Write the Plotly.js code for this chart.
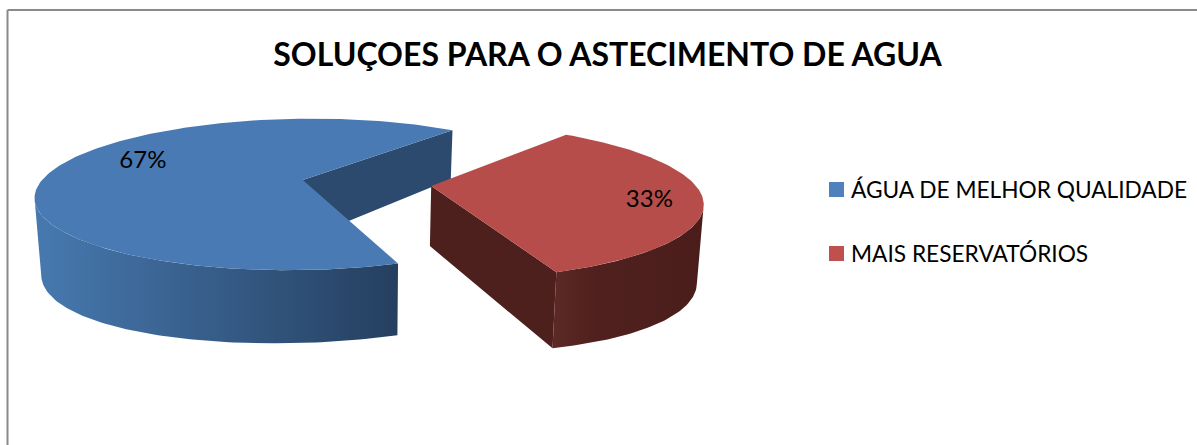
<!DOCTYPE html>
<html><head><meta charset="utf-8">
<script src="https://cdn.plot.ly/plotly-3.0.1.min.js"></script>
<style>html,body{margin:0;padding:0;background:#fff;overflow:hidden}#c{width:1197px;height:445px}</style>
</head><body><div id="c"></div>
<script>
// Data
const chartTitle = 'SOLUÇOES PARA O ASTECIMENTO DE AGUA';
const categories = ['ÁGUA DE MELHOR QUALIDADE', 'MAIS RESERVATÓRIOS'];
const values = [67, 33];
// Styles
const topColors = ['#4A7AB3', '#B64D4A'];
const wallColors = ['#2C4A6E', '#4D1F1D'];
const sideScales = [
  [[0, '#4779B0'], [1, '#253F5F']],
  [[0, '#5C2926'], [0.3, '#4F201E'], [1, '#4A1D1B']]
];
const legendColors = ['#4F81BD', '#C0504D'];
const labelPlane = [[-0.655, 0.26], [0.785, -0.19]];
const legendRows = [189.5, 253.5];
// Pie view
const firstAngle = 50.2, pull = 0.2475, warp = 1.5;
const view = {cx: 366.5, cy: 183, R: 262.8, tR: 74.2, k: 0.19};

function project(X, Y) {
  const s = 1 / (1 + view.k * Y);
  return [view.cx + view.R * X * s, view.cy - view.tR * Y * s];
}
function projectBottom(X, Y) {
  const p = project(X, Y);
  const depth = 59 - 14 * Y + 10 * X * X;
  return [p[0] - (p[0] - view.cx) * 0.02, p[1] + depth];
}
const rad = d => d * Math.PI / 180;
const total = values.reduce((a, b) => a + b, 0);
const traces = [];
function poly(pts, extra) {
  const x = pts.map(p => p[0]), y = pts.map(p => p[1]);
  traces.push(Object.assign({type: 'scatter', mode: 'lines', x: x, y: y, fill: 'toself',
    line: {width: 0}, hoverinfo: 'skip', showlegend: false}, extra));
}
let start = firstAngle;
const slices = values.map((v, i) => {
  const sweep = v / total * 360, mid = start + sweep / 2;
  const o = {i, a0: start, a1: start + sweep, mid: mid,
    ox: pull * Math.cos(rad(mid)), oy: pull * Math.sin(rad(mid))};
  start += sweep;
  return o;
});
const axisAngle = slices[1].mid;
function planePoint(s, deg) {
  const d = deg + warp * Math.sin(rad(deg - axisAngle));
  return [s.ox + Math.cos(rad(d)), s.oy + Math.sin(rad(d))];
}
slices.forEach(s => {
  const arc = [];
  for (let d = s.a0; d < s.a1; d += 1) arc.push(d);
  arc.push(s.a1);
  const apex = [s.ox, s.oy];
  const plane = arc.map(d => planePoint(s, d));
  const topArc = plane.map(p => project(p[0], p[1]));
  // The rim shows from the slice's near cut to its outermost silhouette point
  const xs = topArc.map(p => p[0]);
  const vis = s.i === 0 ? plane.slice(xs.indexOf(Math.min(...xs)))
                        : plane.slice(0, xs.indexOf(Math.max(...xs)) + 1);
  const wallEnd = plane[0];
  // Cut wall facing the viewer
  poly([project(apex[0], apex[1]), project(wallEnd[0], wallEnd[1]),
        projectBottom(wallEnd[0], wallEnd[1]), projectBottom(apex[0], apex[1])],
       {fillcolor: wallColors[s.i]});
  // Outer rim
  const rim = vis.map(p => project(p[0], p[1]))
    .concat(vis.slice().reverse().map(p => projectBottom(p[0], p[1])));
  poly(rim, {fillcolor: sideScales[s.i][0][1], fillgradient: {type: 'horizontal', colorscale: sideScales[s.i]}});
  // Top face
  poly([project(apex[0], apex[1])].concat(topArc), {fillcolor: topColors[s.i]});
});
// Percentage labels
traces.push({type: 'scatter', mode: 'text',
  x: slices.map(s => project(s.ox + labelPlane[s.i][0], s.oy + labelPlane[s.i][1])[0]),
  y: slices.map(s => project(s.ox + labelPlane[s.i][0], s.oy + labelPlane[s.i][1])[1]),
  text: values.map(v => v + '%'), textposition: 'middle center',
  textfont: {family: 'Lato, sans-serif', size: 24, color: '#000'},
  hoverinfo: 'skip', showlegend: false});
// Legend swatches
categories.forEach((c, i) => traces.push({type: 'scatter', mode: 'markers', x: [836.5], y: [legendRows[i]],
  name: c, hoverinfo: 'skip', showlegend: false, marker: {symbol: 'square', size: 15, color: legendColors[i]}}));

const layout = {
  width: 1197, height: 445, margin: {l: 0, r: 0, t: 0, b: 0},
  paper_bgcolor: '#fff', plot_bgcolor: '#fff',
  font: {family: 'Lato, sans-serif', color: '#000'},
  title: {text: '<b>' + chartTitle + '</b>', x: 607.5 / 1197, xanchor: 'center', y: 1 - 55 / 445, yanchor: 'middle',
    font: {family: 'Lato, sans-serif', size: 32, color: '#000'}},
  xaxis: {range: [0, 1197], visible: false, fixedrange: true},
  yaxis: {range: [445, 0], visible: false, fixedrange: true},
  showlegend: false,
  annotations: categories.map((c, i) => ({text: c, x: 849, y: legendRows[i], xref: 'x', yref: 'y',
    xanchor: 'left', yanchor: 'middle', showarrow: false,
    font: {family: 'Lato, sans-serif', size: 22.7, color: '#000'}})),
  shapes: [
    {type: 'line', x0: 7.5, x1: 7.5, y0: 10, y1: 445, line: {color: '#8A8A8A', width: 2}},
    {type: 'line', x0: 7.5, x1: 1197, y0: 10, y1: 10, line: {color: '#8A8A8A', width: 2}}
  ]
};
Plotly.newPlot('c', traces, layout, {displayModeBar: false, staticPlot: true});
</script></body></html>
